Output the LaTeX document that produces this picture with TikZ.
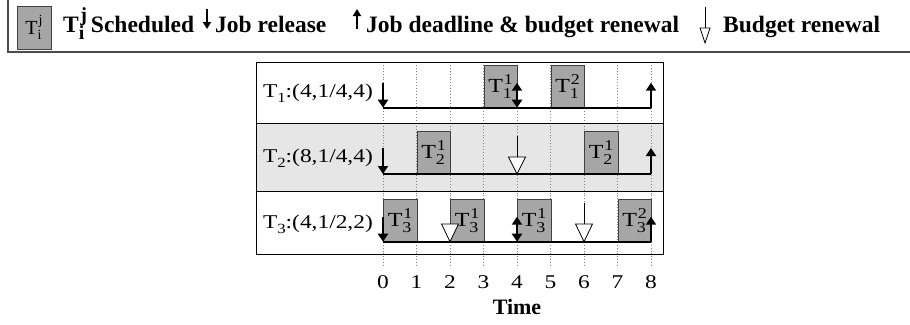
\documentclass[tikz,border=0pt]{standalone}
\usepackage{fontspec}
\setmainfont{Liberation Serif}
\newfontfamily\widefont[FakeStretch=1.2]{Liberation Serif}
\usetikzlibrary{arrows.meta}
\definecolor{boxgray}{HTML}{A6A6A6}
\definecolor{rowgray}{HTML}{E6E6E6}
\definecolor{gridgray}{HTML}{808080}
\newcommand\TSS[2]{T\rlap{\raisebox{-0.28em}{\fontsize{15}{15}\selectfont #1}}\kern1pt\raisebox{0.42em}{\fontsize{15}{15}\selectfont #2}}
\newcommand\Tsb[1]{T\raisebox{-0.25em}{\fontsize{14}{14}\selectfont #1}}
\tikzset{
  lbl/.style={inner sep=0pt,font=\widefont\fontsize{19.5}{19.5}\selectfont},
  legtext/.style={inner sep=0pt,anchor=base west,font=\bfseries\fontsize{23.5}{23.5}\selectfont},
  taskbox/.style={draw=black!75,fill=boxgray,line width=0.8pt,minimum width=33.5pt,minimum height=42pt,inner sep=0pt,anchor=south west,font=\widefont\fontsize{20}{20}\selectfont},
  arr/.style={line width=2pt,-{Triangle[width=10pt,length=8pt]}},
  darr/.style={line width=2pt,{Triangle[width=10pt,length=8pt]}-{Triangle[width=10pt,length=8pt]}},
  baseline/.style={line width=2.2pt},
  grid/.style={gridgray,dotted,line width=0.9pt},
  hollow/.style={draw=black,fill=white,line width=0.8pt},
  frame/.style={black,line width=1pt}
}
\begin{document}
\begin{tikzpicture}[x=1pt,y=-1pt]
\useasboundingbox (0,0) rectangle (910,324);
% ---------- legend ----------
\draw[black!70,line width=1.2pt] (8,0) -- (8,52) -- (910,52);
\node[draw=black!75,fill=boxgray,line width=0.8pt,minimum width=34pt,minimum height=43pt,inner sep=0pt,font=\fontsize{20}{20}\selectfont] (legbox) at (34,27.5) {T\rlap{\raisebox{-0.28em}{\fontsize{14}{14}\selectfont i}}\kern1pt\raisebox{0.48em}{\fontsize{14}{14}\selectfont j}};
\node[legtext] (legsched) at (63,32) {T\rlap{\raisebox{-0.30em}{\fontsize{20}{20}\selectfont i}}\kern1.5pt\raisebox{0.45em}{\fontsize{20}{20}\selectfont j}\,Scheduled};
\coordinate (ldA) at (207,9); \coordinate (ldB) at (207,29);
\draw[line width=1.8pt,-{Triangle[width=8pt,length=7pt]}] (ldA) -- (ldB);
\node[legtext] (legrel) at (215,32) {Job release};
\coordinate (luA) at (357,29); \coordinate (luB) at (357,9);
\draw[line width=1.8pt,-{Triangle[width=8pt,length=7pt]}] (luA) -- (luB);
\node[legtext] (legdead) at (366,32) {Job deadline \& budget renewal};
\coordinate (lhA) at (705,7); \coordinate (lhB) at (705,28);
\draw[line width=0.8pt] (lhA) -- (lhB);
\draw[hollow] (700,28) -- (710,28) -- (705,43) -- cycle;
\node[legtext] (legbud) at (723,32) {Budget renewal};
% ---------- panel ----------
\fill[rowgray] (256,123) rectangle (663,191);
\foreach \i in {0,...,8}{
  \coordinate (g\i) at ({383+33.5*\i},62);
  \draw[grid] (g\i) -- ++(0,204);
  \node[lbl] (tick\i) at ({383+33.5*\i},282) {\i};
}
\node[inner sep=0pt,font=\bfseries\fontsize{22}{22}\selectfont] (timelbl) at (517,307) {Time};
% row labels
\node[lbl,anchor=east] (r1) at (373,93) {\Tsb{1}:(4,1/4,4)};
\node[lbl,anchor=east] (r2) at (373,158) {\Tsb{2}:(8,1/4,4)};
\node[lbl,anchor=east] (r3) at (373,224) {\Tsb{3}:(4,1/2,2)};
% boxes row 1 (base 107.7)
\node[taskbox] (b11) at ({383+33.5*3},107.7) {\TSS{1}{1}};
\node[taskbox] (b12) at ({383+33.5*5},107.7) {\TSS{1}{2}};
% row 2 (base 174)
\node[taskbox] (b21) at ({383+33.5*1},174) {\TSS{2}{1}};
\node[taskbox] (b22) at ({383+33.5*6},174) {\TSS{2}{1}};
% row 3 (base 241.7)
\node[taskbox] (b31) at ({383+33.5*0},241.7) {\TSS{3}{1}};
\node[taskbox] (b32) at ({383+33.5*2},241.7) {\TSS{3}{1}};
\node[taskbox] (b33) at ({383+33.5*4},241.7) {\TSS{3}{1}};
\node[taskbox] (b34) at ({383+33.5*7},241.7) {\TSS{3}{2}};
% baselines
\draw[baseline] (383,107.7) -- (651,107.7);
\draw[baseline] (383,174) -- (651,174);
\draw[baseline] (383,241.7) -- (651,241.7);
% row 1 arrows
\draw[arr] (383,82.7) -- (383,107.7);
\draw[darr] (517,82.7) -- (517,107.7);
\draw[arr] (651,107.7) -- (651,82.7);
% row 2 arrows
\draw[arr] (383,148) -- (383,174);
\draw[line width=0.8pt] (517,136) -- (517,157);
\draw[hollow] (508.5,157) -- (525.5,157) -- (517,174) -- cycle;
\draw[arr] (651,174) -- (651,148);
% row 3 arrows
\draw[arr] (383,216.7) -- (383,241.7);
\draw[hollow] (441.5,224) -- (458.5,224) -- (450,241.7) -- cycle;
\draw[darr] (517,216.7) -- (517,241.7);
\draw[line width=0.8pt] (584,203) -- (584,224);
\draw[hollow] (575.5,224) -- (592.5,224) -- (584,241.7) -- cycle;
\draw[arr] (651,241.7) -- (651,216.7);
% frame
\draw[frame] (256,62) rectangle (663,254);
\draw[frame] (256,123) -- (663,123);
\draw[frame] (256,191) -- (663,191);
\end{tikzpicture}
\end{document}
